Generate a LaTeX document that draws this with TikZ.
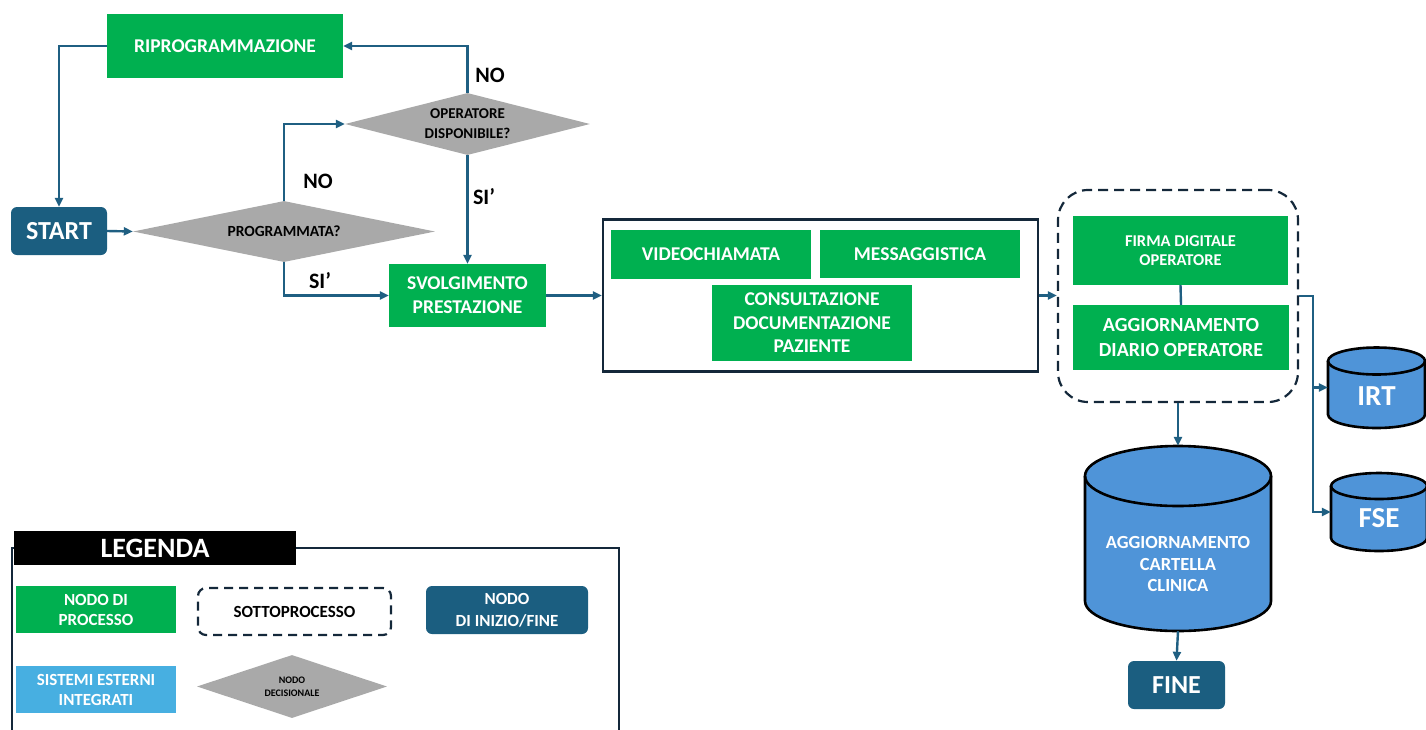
\documentclass[tikz,border=0pt]{standalone}
\usepackage{fontspec}
\setmainfont{Carlito}
\usetikzlibrary{arrows.meta,shapes.geometric}
\definecolor{pgreen}{HTML}{00B050}
\definecolor{dblue}{HTML}{1B5E80}
\definecolor{ablue}{HTML}{1F5F82}
\definecolor{dgrey}{HTML}{A9A9A9}
\definecolor{cblue}{HTML}{4F94D8}
\definecolor{lblue}{HTML}{47AFE1}
\definecolor{navy}{HTML}{14283A}
\newcommand\fsz[2]{\fontsize{#1}{#2}\selectfont\bfseries}
\newcommand\drawcyl[5]{%
  \path[fill=cblue] (#1,#2) -- (#1,#3) arc[start angle=180,end angle=360,x radius=#4pt,y radius=#5pt] -- ++(0,{#2-#3}) arc[start angle=0,end angle=180,x radius=#4pt,y radius=#5pt] -- cycle;
  \draw[cylline] (#1,#2) -- (#1,#3) arc[start angle=180,end angle=360,x radius=#4pt,y radius=#5pt] -- ++(0,{#2-#3});
  \draw[cylline] ({#1+#4},#2) ellipse[x radius=#4pt,y radius=#5pt];}
\tikzset{
  base/.style={align=center, inner sep=0pt, text=white},
  proc/.style={base, fill=pgreen},
  term/.style={base, fill=dblue, rounded corners=6pt},
  dec/.style={base, text=black, shape=diamond, fill=dgrey},
  arr/.style={draw=ablue, line width=2.4pt, -{Triangle[length=9pt,width=8pt]}},
  link/.style={draw=ablue, line width=2.4pt},
  lbl/.style={inner sep=0pt, font=\fsz{22}{26}},
  cylline/.style={draw=black, line width=2.6pt},
  ghost/.style={inner sep=0pt},
  subproc/.style={draw=navy, line width=2.2pt, dash pattern=on 10pt off 6pt, rounded corners=30pt},
  frame/.style={draw=navy, line width=2.2pt}
}
\begin{document}
\begin{tikzpicture}[x=1pt,y=-1pt]
\useasboundingbox (0,0) rectangle (1426,729);
% main flow
\node[proc, minimum width=236, minimum height=64, font=\fsz{19.5}{24}] (rip) at (225,46) {RIPROGRAMMAZIONE};
\node[term, minimum width=96, minimum height=48, font=\fsz{26}{30}] (start) at (59,231) {START};
\node[dec, minimum width=302, minimum height=61, aspect=4.95, font=\fsz{15.5}{19}] (prog) at (284,231.5) {PROGRAMMATA?};
\node[dec, minimum width=245, minimum height=62, aspect=3.95, font=\fsz{15}{20}] (oper) at (467.5,124) {OPERATORE\\DISPONIBILE?};
\node[proc, minimum width=157, minimum height=63, font=\fsz{19.5}{24}] (svol) at (467.5,295.5) {SVOLGIMENTO\\PRESTAZIONE};
\node[lbl] (no1) at (490,75) {NO};
\node[lbl] (no2) at (318,181) {NO};
\node[lbl] (si1) at (484,197) {SI’};
\node[lbl] (si2) at (320,281) {SI’};
\draw[arr] (start.east) -- (prog.west);
\draw[arr] (prog.north) |- (oper.west);
\draw[arr] (oper.north) |- (rip.east);
\draw[arr] (rip.west) -| (start.north);
\draw[arr] (oper.south) -- (svol.north);
\draw[arr] (prog.south) |- (svol.west);
% activity box
\node[draw=navy, line width=2.2pt, minimum width=435, minimum height=152, inner sep=0pt] (box) at (820.5,295.5) {};
\node[proc, minimum width=200, minimum height=49, font=\fsz{19.5}{23}] (video) at (711,254.5) {VIDEOCHIAMATA};
\node[proc, minimum width=200, minimum height=48, font=\fsz{19.5}{23}] (mess) at (920,254) {MESSAGGISTICA};
\node[proc, minimum width=200, minimum height=76, font=\fsz{19.5}{23.5}] (cons) at (812,323) {CONSULTAZIONE\\DOCUMENTAZIONE\\PAZIENTE};
\draw[arr] (svol.east) -- (box.west);
% subprocess
\node[subproc, minimum width=240, minimum height=212, inner sep=0pt] (sub) at (1178,296) {};
\node[proc, minimum width=215, minimum height=69, font=\fsz{16.5}{19.5}] (firma) at (1180.5,250.5) {FIRMA DIGITALE\\OPERATORE};
\node[proc, minimum width=216, minimum height=65, font=\fsz{20}{25}] (diario) at (1181,337.5) {AGGIORNAMENTO\\DIARIO OPERATORE};
\draw[link] (firma.south) -- (diario.north);
\draw[arr] (box.east) -- (box.east -| sub.west);
% cylinders
\drawcyl{1085}{476}{601}{93}{30}
\node[ghost, minimum width=186, minimum height=185] (cart) at (1178,538.5) {};
\node[base, font=\fsz{18.5}{21.5}] (cartl) at (1178,564) {AGGIORNAMENTO\\CARTELLA\\CLINICA};
\drawcyl{1328}{361}{414.5}{48.5}{13.5}
\node[ghost, minimum width=97, minimum height=81] (irt) at (1376.5,387.5) {};
\node[base, font=\fsz{29}{32}] (irtl) at (1376.5,396) {IRT};
\drawcyl{1331}{486}{538}{48}{13}
\node[ghost, minimum width=96, minimum height=78] (fse) at (1379,512) {};
\node[base, font=\fsz{29}{32}] (fsel) at (1379,518) {FSE};
\node[term, minimum width=97, minimum height=48, font=\fsz{26}{30}] (fine) at (1176.5,685) {FINE};
\draw[arr] (sub.south) -- (cart.north);
\draw[arr] (cart.south) -- (fine.north);
\draw[arr] (sub.east) -- ++(14,0) |- (irt.west);
\draw[arr] (sub.east) -- ++(14,0) |- (fse.west);
% legend
\draw[frame] (12,731) -- (12,548) -- (619,548) -- (619,731);
\node[base, fill=black, minimum width=282, minimum height=34, font=\fsz{28}{30}] (leg) at (155,548) {LEGENDA};
\node[proc, minimum width=160, minimum height=47, font=\fsz{17}{20}] (lproc) at (96,609.5) {NODO DI\\PROCESSO};
\node[base, text=black, draw=navy, line width=2.2pt, dash pattern=on 9pt off 6pt, rounded corners=8pt, minimum width=193, minimum height=47, font=\fsz{17}{20}] (lsub) at (294.5,611.5) {SOTTOPROCESSO};
\node[term, minimum width=162, minimum height=48, font=\fsz{17}{22}] (lterm) at (507,610) {NODO\\DI INIZIO/FINE};
\node[base, fill=lblue, minimum width=160, minimum height=47, font=\fsz{17}{20}] (lext) at (96,689.5) {SISTEMI ESTERNI\\INTEGRATI};
\node[dec, minimum width=190, minimum height=63, aspect=3, font=\fsz{10}{13}] (ldec) at (292,686.5) {NODO\\DECISIONALE};
\end{tikzpicture}
\end{document}
